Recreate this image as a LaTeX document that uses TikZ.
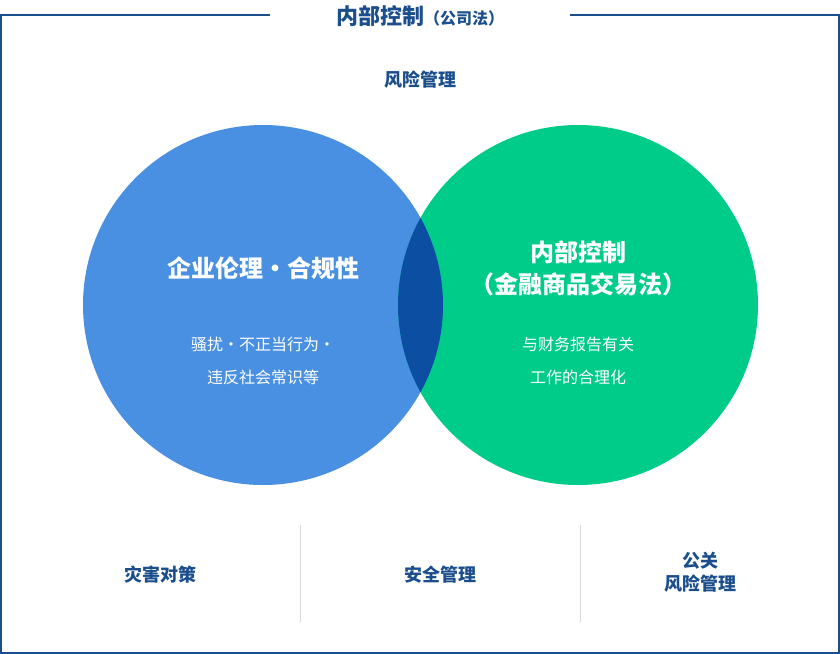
\documentclass[tikz,border=0pt]{standalone}
\usepackage{fontspec}
\setmainfont{Noto Sans CJK SC}
\usetikzlibrary{positioning}
\definecolor{navy}{HTML}{1B4E8C}
\definecolor{leftblue}{HTML}{4A90E2}
\definecolor{rightgreen}{HTML}{00CC8A}
\definecolor{overlapblue}{HTML}{0B4EA2}
\definecolor{divgray}{HTML}{D5D9DE}
\begin{document}
\begin{tikzpicture}[x=0.75pt,y=-0.75pt,
  label text/.style={text=navy,font=\bfseries\fontsize{13.5}{17}\selectfont,align=center},
  circle title/.style={text=white,font=\bfseries\fontsize{18}{24}\selectfont,align=center},
  circle sub/.style={text=white,font=\fontsize{12}{24.5}\selectfont,align=center}]

    \useasboundingbox (0,0) rectangle (840,654);

    % frame with a gap for the title
    \draw[navy,line width=1.5pt] (270,15) -- (1,15) -- (1,653) -- (839,653) -- (839,15) -- (570,15);
    \node[text=navy,inner sep=0] (title) at (420,16) {\bfseries\fontsize{16.5}{20}\selectfont 内部控制\fontsize{12}{20}\selectfont（公司法）};

    \node[label text] (risk) at (420,80) {风险管理};

    % circles
    \fill[leftblue] (263,305) circle (180);
    \fill[rightgreen] (578,305) circle (180);
    \begin{scope}
        \clip (263,305) circle (180);
        \fill[overlapblue] (578,305) circle (180);
    \end{scope}

    \node[circle title] (ethics) at (263,268) {企业伦理・合规性};
    \node[circle sub] (ethicssub) at (263,361) {骚扰・不正当行为・\\违反社会常识等};

    \node[circle title] (control) at (578,268) {内部控制\\（金融商品交易法）};
    \node[circle sub] (controlsub) at (578,361) {与财务报告有关\\工作的合理化};

    % bottom row
    \draw[divgray] (300,525) -- (300,622);
    \draw[divgray] (580,525) -- (580,622);
    \node[label text] (disaster) at (160,575) {灾害对策};
    \node[label text] (safety) at (440,575) {安全管理};
    \node[label text] (pr) at (700,572) {公关\\风险管理};

\end{tikzpicture}
\end{document}
